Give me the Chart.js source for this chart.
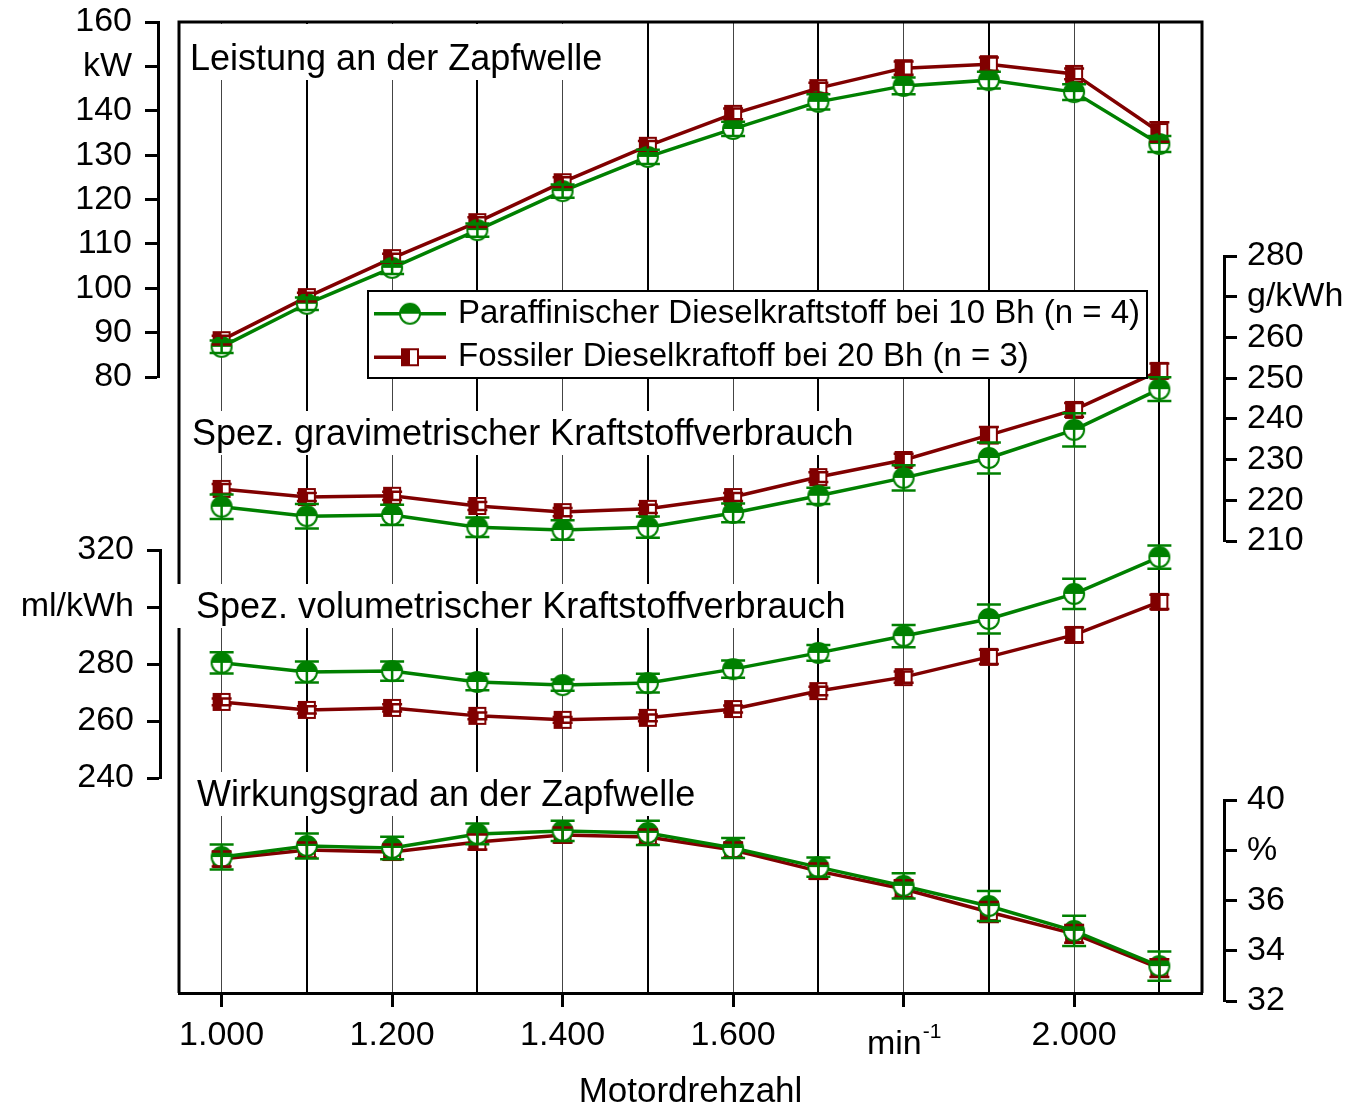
<!DOCTYPE html>
<html>
<head>
<meta charset="utf-8">
<script src="https://cdn.jsdelivr.net/npm/chart.js@4.4.1/dist/chart.umd.min.js"></script>
<style>
    html, body { margin: 0; padding: 0; background: #fff; }
    canvas { display: block; }
</style>
</head>
<body>
<canvas id="chart" width="1353" height="1106"></canvas>
<script>
// --- Data ---
const rpm = [1000, 1100, 1200, 1300, 1400, 1500, 1600, 1700, 1800, 1900, 2000, 2100];
const seriesNames = [
    'Paraffinischer Dieselkraftstoff bei 10 Bh (n = 4)',
    'Fossiler Dieselkraftoff bei 20 Bh (n = 3)'
];

// Leistung an der Zapfwelle (kW)
const powerParaffin    = [86.8, 96.5, 104.6, 113.1, 121.9, 129.6, 135.9, 142.0, 145.6, 146.9, 144.2, 132.5];
const powerParaffinErr = [1.4, 1.4, 1.4, 1.5, 1.5, 1.6, 1.6, 1.7, 1.9, 1.9, 1.8, 1.8];
const powerFossil      = [88.3, 98.0, 106.8, 114.9, 123.9, 132.1, 139.3, 145.1, 149.6, 150.5, 148.3, 135.2];
const powerFossilErr   = [1.0, 1.0, 1.0, 1.1, 1.1, 1.1, 1.2, 1.2, 1.5, 1.5, 1.2, 2.2];

// Spez. gravimetrischer Kraftstoffverbrauch (g/kWh)
const gravParaffin    = [218.4, 216.1, 216.4, 213.4, 212.7, 213.4, 216.9, 221.1, 225.5, 230.4, 237.3, 247.3];
const gravParaffinErr = [3.0, 3.0, 2.5, 2.4, 2.4, 2.6, 2.3, 2.0, 3.1, 3.8, 4.1, 2.9];
const gravFossil      = [222.8, 220.8, 221.1, 218.6, 217.1, 217.9, 220.8, 225.7, 229.9, 236.0, 242.2, 251.8];
const gravFossilErr   = [1.2, 1.0, 1.0, 1.0, 1.0, 1.0, 1.0, 1.2, 1.5, 2.0, 1.7, 1.8];

// Spez. volumetrischer Kraftstoffverbrauch (ml/kWh)
const volParaffin    = [280.4, 277.2, 277.5, 273.7, 272.6, 273.3, 278.2, 283.9, 289.8, 295.8, 304.6, 317.5];
const volParaffinErr = [3.7, 3.7, 3.4, 2.9, 2.0, 3.3, 3.0, 2.8, 3.9, 5.1, 5.3, 4.1];
const volFossil      = [266.7, 263.9, 264.6, 261.8, 260.4, 261.1, 264.2, 270.5, 275.4, 282.5, 290.2, 301.8];
const volFossilErr   = [1.2, 1.3, 1.3, 1.2, 1.0, 1.2, 1.2, 1.5, 2.0, 2.5, 2.6, 2.5];

// Wirkungsgrad an der Zapfwelle (%)
const effParaffin    = [37.73, 38.17, 38.09, 38.65, 38.77, 38.69, 38.09, 37.33, 36.58, 35.78, 34.79, 33.39];
const effParaffinErr = [0.5, 0.5, 0.45, 0.41, 0.4, 0.48, 0.4, 0.38, 0.5, 0.6, 0.6, 0.58];
const effFossil      = [37.65, 38.01, 37.93, 38.33, 38.61, 38.53, 38.01, 37.17, 36.46, 35.54, 34.67, 33.31];
const effFossilErr   = [0.3, 0.3, 0.3, 0.3, 0.3, 0.3, 0.3, 0.3, 0.35, 0.4, 0.35, 0.35];

// Ticks
const xGridValues  = [1000, 1100, 1200, 1300, 1400, 1500, 1600, 1700, 1800, 1900, 2000, 2100];
const xLabelValues = [1000, 1200, 1400, 1600, 1800, 2000];
const xLabelTexts  = ['1.000', '1.200', '1.400', '1.600', 'min', '2.000'];
const xUnitValue = 1800;       // the "min-1" label sits at this tick
const xUnitSuperscript = '-1';
const powerTicks  = [80, 90, 100, 110, 120, 130, 140, 150, 160];
const powerLabels = ['80', '90', '100', '110', '120', '130', '140', 'kW', '160'];
const volTicks    = [240, 260, 280, 300, 320];
const volLabels   = ['240', '260', '280', 'ml/kWh', '320'];
const gravTicks   = [210, 220, 230, 240, 250, 260, 270, 280];
const gravLabels  = ['210', '220', '230', '240', '250', '260', 'g/kWh', '280'];
const effTicks    = [32, 34, 36, 38, 40];
const effLabels   = ['32', '34', '36', '%', '40'];

const panelTitles = [
    { text: 'Leistung an der Zapfwelle', x: 190, baseline: 70, top: 24, bottom: 80, left: 181 },
    { text: 'Spez. gravimetrischer Kraftstoffverbrauch', x: 192, baseline: 445, top: 411, bottom: 455, left: 181 },
    { text: 'Spez. volumetrischer Kraftstoffverbrauch', x: 196, baseline: 618, top: 584, bottom: 628, left: 176 },
    { text: 'Wirkungsgrad an der Zapfwelle', x: 197, baseline: 806, top: 772, bottom: 816, left: 181 }
];

// --- Look ---
const FONT = '"Liberation Sans", Arial, sans-serif';
const GREEN = '#008000';
const RED = '#800000';
Chart.defaults.font.family = FONT;
Chart.defaults.color = '#000';

// where each y axis sits (pixels)
const axisBoxes = {
    yPower: { edge: 158, top: 22, bottom: 377, fitWidth: 179 },
    yVol:   { edge: 160, top: 550, bottom: 778, fitWidth: 0 },
    yGrav:  { edge: 1224, top: 256, bottom: 541, fitWidth: 151 },
    yEff:   { edge: 1224, top: 800, bottom: 1001, fitWidth: 0 }
};

function circleMarker(color) {
    const r = 10, lw = 2, size = 2 * r + lw + 2;
    const c = document.createElement('canvas');
    c.width = c.height = size;
    const g = c.getContext('2d');
    const m = size / 2;
    g.beginPath(); g.arc(m, m, r, 0, Math.PI * 2); g.fillStyle = '#fff'; g.fill();
    g.beginPath(); g.arc(m, m, r, Math.PI, Math.PI * 2); g.closePath(); g.fillStyle = color; g.fill();
    g.beginPath(); g.arc(m, m, r, 0, Math.PI * 2); g.lineWidth = lw; g.strokeStyle = color; g.stroke();
    return c;
}

function squareMarker(color) {
    const s = 16, lw = 2, size = s + lw + 2;
    const c = document.createElement('canvas');
    c.width = c.height = size;
    const g = c.getContext('2d');
    const o = (size - s) / 2;
    g.fillStyle = '#fff'; g.fillRect(o, o, s, s);
    g.fillStyle = color; g.fillRect(o, o, s / 2, s);
    g.lineWidth = lw; g.strokeStyle = color; g.strokeRect(o, o, s, s);
    return c;
}

const greenMarker = circleMarker(GREEN);
const redMarker = squareMarker(RED);

function lineSet(label, values, errors, axis, color, marker) {
    return {
        label,
        data: rpm.map((r, i) => ({ x: r, y: values[i] })),
        errors,
        yAxisID: axis,
        borderColor: color,
        backgroundColor: color,
        borderWidth: 3.5,
        tension: 0,
        pointStyle: marker,
        pointRadius: 10,
        capWidth: color === GREEN ? 12 : 10,
        clip: false
    };
}

function yScale(position, min, max, values, labels, box) {
    return {
        type: 'linear',
        position,
        min,
        max,
        afterBuildTicks: s => { s.ticks = values.map(v => ({ value: v })); },
        afterFit: s => { s.width = box.fitWidth; s.paddingTop = 0; s.paddingBottom = 0; },
        grid: { drawOnChartArea: false, drawTicks: true, tickLength: 13, tickWidth: 3, tickColor: '#000' },
        border: { display: true, width: 3, color: '#000' },
        ticks: {
            autoSkip: false,
            padding: position === 'left' ? 13 : 10,
            font: { size: 34 },
            callback: v => { const i = values.indexOf(v); return i < 0 ? '' : labels[i]; }
        }
    };
}

// frame + panel title boxes, under the data
const panelPlugin = {
    id: 'panels',
    beforeDatasetsDraw(chart) {
        const { ctx, chartArea: a } = chart;
        ctx.save();
        ctx.strokeStyle = '#000';
        ctx.lineWidth = 3;
        ctx.beginPath();
        ctx.moveTo(a.left, a.bottom);
        ctx.lineTo(a.left, a.top);
        ctx.lineTo(a.right, a.top);
        ctx.lineTo(a.right, a.bottom);
        ctx.stroke();
        ctx.font = '36px ' + FONT;
        ctx.textBaseline = 'alphabetic';
        panelTitles.forEach(t => {
            const w = ctx.measureText(t.text).width;
            ctx.fillStyle = '#fff';
            ctx.fillRect(t.left, t.top, t.x + w + 8 - t.left, t.bottom - t.top);
            ctx.fillStyle = '#000';
            ctx.fillText(t.text, t.x, t.baseline);
        });
        ctx.restore();
    },
    afterDraw(chart) {
        // rpm unit label with superscript exponent, at its tick
        const { ctx } = chart;
        const xs = chart.scales.x;
        const label = xLabelTexts[xLabelValues.indexOf(xUnitValue)];
        const cx = xs.getPixelForValue(xUnitValue);
        ctx.save();
        ctx.fillStyle = '#000';
        ctx.textBaseline = 'alphabetic';
        ctx.font = '34px ' + FONT;
        const w = ctx.measureText(label).width;
        ctx.font = '21px ' + FONT;
        const ws = ctx.measureText(xUnitSuperscript).width;
        const x0 = cx - (w + ws) / 2;
        ctx.font = '34px ' + FONT;
        ctx.fillText(label, x0, 1054);
        ctx.font = '21px ' + FONT;
        ctx.fillText(xUnitSuperscript, x0 + w + 1, 1038);
        ctx.restore();
    }
};

// error bars from the errors arrays
const errorBarPlugin = {
    id: 'errorBars',
    afterDatasetsDraw(chart) {
        const { ctx } = chart;
        ctx.save();
        for (let d = chart.data.datasets.length - 1; d >= 0; d--) {
            const ds = chart.data.datasets[d];
            const meta = chart.getDatasetMeta(d);
            const yAxis = chart.scales[ds.yAxisID];
            ctx.strokeStyle = ds.borderColor;
            ctx.lineWidth = 2.5;
            meta.data.forEach((pt, i) => {
                const v = ds.data[i].y, e = ds.errors[i];
                const y1 = yAxis.getPixelForValue(v + e);
                const y2 = yAxis.getPixelForValue(v - e);
                const cw = ds.capWidth;
                ctx.beginPath();
                ctx.moveTo(pt.x, y1); ctx.lineTo(pt.x, y2);
                ctx.moveTo(pt.x - cw, y1); ctx.lineTo(pt.x + cw, y1);
                ctx.moveTo(pt.x - cw, y2); ctx.lineTo(pt.x + cw, y2);
                ctx.stroke();
            });
        }
        ctx.restore();
    }
};

// legend box inside the plot
const legendBox = { left: 368, top: 291, right: 1147, bottom: 378 };
const legendPlugin = {
    id: 'boxLegend',
    afterDatasetsDraw(chart) {
        const { ctx } = chart;
        const b = legendBox;
        ctx.save();
        ctx.fillStyle = '#fff';
        ctx.fillRect(b.left, b.top, b.right - b.left, b.bottom - b.top);
        ctx.strokeStyle = '#000';
        ctx.lineWidth = 2;
        ctx.strokeRect(b.left, b.top, b.right - b.left, b.bottom - b.top);
        const rowH = (b.bottom - b.top) / 2;
        [0, 1].forEach(k => {
            const ds = chart.data.datasets[k];
            const y = b.top + rowH * (k + 0.5) + 1;
            ctx.strokeStyle = ds.borderColor;
            ctx.lineWidth = 3.5;
            ctx.beginPath();
            ctx.moveTo(b.left + 6, y);
            ctx.lineTo(b.left + 78, y);
            ctx.stroke();
            const m = ds.pointStyle;
            ctx.drawImage(m, b.left + 42 - m.width / 2, y - m.height / 2);
            ctx.fillStyle = '#000';
            ctx.font = '33px ' + FONT;
            ctx.textBaseline = 'middle';
            ctx.fillText(ds.label, b.left + 90, y);
        });
        ctx.restore();
    }
};

// place the y axes on their own vertical segments
const axisPlacePlugin = {
    id: 'axisPlace',
    afterLayout(chart) {
        Object.entries(axisBoxes).forEach(([id, b]) => {
            const s = chart.scales[id];
            if (s.position === 'left') { s.left = 0; s.right = b.edge; }
            else { s.left = b.edge; s.right = chart.width; }
            s.width = s.right - s.left;
            s.top = b.top;
            s.bottom = b.bottom;
            s.height = b.bottom - b.top;
            s.configure();
        });
    }
};

const chart = new Chart(document.getElementById('chart'), {
    type: 'line',
    data: {
        datasets: [
            lineSet(seriesNames[0], powerParaffin, powerParaffinErr, 'yPower', GREEN, greenMarker),
            lineSet(seriesNames[1], powerFossil, powerFossilErr, 'yPower', RED, redMarker),
            lineSet(seriesNames[0], gravParaffin, gravParaffinErr, 'yGrav', GREEN, greenMarker),
            lineSet(seriesNames[1], gravFossil, gravFossilErr, 'yGrav', RED, redMarker),
            lineSet(seriesNames[0], volParaffin, volParaffinErr, 'yVol', GREEN, greenMarker),
            lineSet(seriesNames[1], volFossil, volFossilErr, 'yVol', RED, redMarker),
            lineSet(seriesNames[0], effParaffin, effParaffinErr, 'yEff', GREEN, greenMarker),
            lineSet(seriesNames[1], effFossil, effFossilErr, 'yEff', RED, redMarker)
        ]
    },
    options: {
        responsive: false,
        animation: false,
        events: [],
        layout: { padding: { top: 22, left: 0, right: 0, bottom: 0 } },
        plugins: { legend: { display: false }, tooltip: { enabled: false } },
        scales: {
            x: {
                type: 'linear',
                position: 'bottom',
                min: 950,
                max: 2150,
                afterBuildTicks: s => { s.ticks = xGridValues.map(v => ({ value: v })); },
                afterFit: s => { s.height = 113; s.paddingLeft = 0; s.paddingRight = 0; },
                grid: {
                    drawOnChartArea: true,
                    color: c => (c.tick && c.tick.value % 200 === 0) ? '#444' : '#000',
                    lineWidth: c => (c.tick && c.tick.value % 200 === 0) ? 1 : 2,
                    tickLength: 14,
                    tickWidth: 3,
                    tickColor: c => (c.tick && c.tick.value % 200 === 0) ? '#000' : 'rgba(0,0,0,0)'
                },
                border: { display: true, width: 3, color: '#000' },
                ticks: {
                    autoSkip: false,
                    maxRotation: 0,
                    padding: 8,
                    font: { size: 34 },
                    callback: v => {
                        if (v === xUnitValue) return '';
                        const i = xLabelValues.indexOf(v);
                        return i < 0 ? '' : xLabelTexts[i];
                    }
                },
                title: { display: true, text: 'Motordrehzahl', font: { size: 35, lineHeight: 0.8 }, padding: 0 }
            },
            yPower: yScale('left', 80, 160, powerTicks, powerLabels, axisBoxes.yPower),
            yVol: yScale('left', 240, 320, volTicks, volLabels, axisBoxes.yVol),
            yGrav: yScale('right', 210, 280, gravTicks, gravLabels, axisBoxes.yGrav),
            yEff: yScale('right', 32, 40, effTicks, effLabels, axisBoxes.yEff)
        }
    },
    plugins: [axisPlacePlugin, panelPlugin, errorBarPlugin, legendPlugin]
});
</script>
</body>
</html>
